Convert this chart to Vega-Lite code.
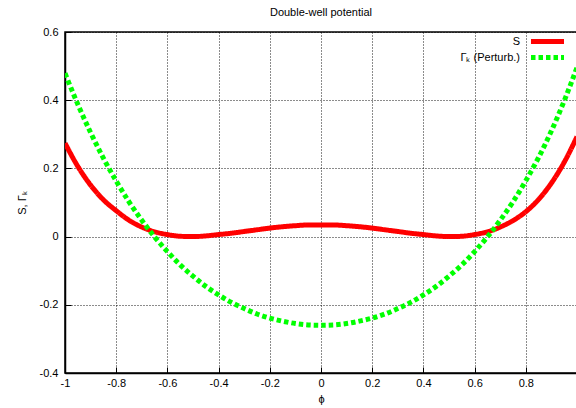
{
  "$schema": "https://vega.github.io/schema/vega-lite/v6.json",
  "width": 512,
  "height": 341,
  "autosize": "none",
  "padding": {"left": 65, "top": 32, "right": 0, "bottom": 35},
  "background": "white",
  "title": {"text": "Double-well potential", "fontSize": 11, "fontWeight": "normal", "font": "Liberation Sans", "offset": 8, "anchor": "middle", "color": "black"},
  "config": {
    "view": {"stroke": "black", "strokeWidth": 1.5},
    "axis": {"labelFont": "Liberation Sans", "labelFontSize": 11, "labelColor": "black", "titleFont": "Liberation Sans", "titleFontSize": 11, "titleFontWeight": "normal", "titleColor": "black", "grid": true, "gridDash": [1, 2], "gridColor": "black", "gridOpacity": 0.9, "domainColor": "black", "domainWidth": 1.5, "tickColor": "black", "tickSize": -6, "tickWidth": 1},
    "legend": {"labelFont": "Liberation Sans", "labelFontSize": 11, "labelColor": "black", "symbolType": "M-8.25,0H8.25", "symbolSize": 16, "symbolStrokeWidth": 5, "labelAlign": "right", "labelOffset": -33, "rowPadding": -13, "padding": 0, "titlePadding": 0}
  },
  "data": {"values": [
    {"phi": -1.0, "v": 0.274, "series": "S"},
    {"phi": -0.95, "v": 0.206, "series": "S"},
    {"phi": -0.9, "v": 0.151, "series": "S"},
    {"phi": -0.85, "v": 0.108, "series": "S"},
    {"phi": -0.8, "v": 0.076, "series": "S"},
    {"phi": -0.75, "v": 0.048, "series": "S"},
    {"phi": -0.7, "v": 0.028, "series": "S"},
    {"phi": -0.65, "v": 0.014, "series": "S"},
    {"phi": -0.6, "v": 0.006, "series": "S"},
    {"phi": -0.55, "v": 0.001, "series": "S"},
    {"phi": -0.5, "v": 0.0, "series": "S"},
    {"phi": -0.45, "v": 0.002, "series": "S"},
    {"phi": -0.4, "v": 0.006, "series": "S"},
    {"phi": -0.35, "v": 0.010, "series": "S"},
    {"phi": -0.3, "v": 0.015, "series": "S"},
    {"phi": -0.25, "v": 0.020, "series": "S"},
    {"phi": -0.2, "v": 0.025, "series": "S"},
    {"phi": -0.15, "v": 0.029, "series": "S"},
    {"phi": -0.1, "v": 0.032, "series": "S"},
    {"phi": -0.05, "v": 0.034, "series": "S"},
    {"phi": 0.0, "v": 0.034, "series": "S"},
    {"phi": 0.05, "v": 0.034, "series": "S"},
    {"phi": 0.1, "v": 0.032, "series": "S"},
    {"phi": 0.15, "v": 0.029, "series": "S"},
    {"phi": 0.2, "v": 0.025, "series": "S"},
    {"phi": 0.25, "v": 0.020, "series": "S"},
    {"phi": 0.3, "v": 0.015, "series": "S"},
    {"phi": 0.35, "v": 0.010, "series": "S"},
    {"phi": 0.4, "v": 0.006, "series": "S"},
    {"phi": 0.45, "v": 0.002, "series": "S"},
    {"phi": 0.5, "v": 0.0, "series": "S"},
    {"phi": 0.55, "v": 0.001, "series": "S"},
    {"phi": 0.6, "v": 0.006, "series": "S"},
    {"phi": 0.65, "v": 0.014, "series": "S"},
    {"phi": 0.7, "v": 0.028, "series": "S"},
    {"phi": 0.75, "v": 0.047, "series": "S"},
    {"phi": 0.8, "v": 0.073, "series": "S"},
    {"phi": 0.85, "v": 0.109, "series": "S"},
    {"phi": 0.9, "v": 0.157, "series": "S"},
    {"phi": 0.95, "v": 0.218, "series": "S"},
    {"phi": 1.0, "v": 0.293, "series": "S"},
    {"phi": -1.0, "v": 0.479, "series": "Γₖ (Perturb.)"},
    {"phi": -0.95, "v": 0.388, "series": "Γₖ (Perturb.)"},
    {"phi": -0.9, "v": 0.305, "series": "Γₖ (Perturb.)"},
    {"phi": -0.85, "v": 0.230, "series": "Γₖ (Perturb.)"},
    {"phi": -0.8, "v": 0.163, "series": "Γₖ (Perturb.)"},
    {"phi": -0.75, "v": 0.102, "series": "Γₖ (Perturb.)"},
    {"phi": -0.7, "v": 0.048, "series": "Γₖ (Perturb.)"},
    {"phi": -0.65, "v": -0.001, "series": "Γₖ (Perturb.)"},
    {"phi": -0.6, "v": -0.044, "series": "Γₖ (Perturb.)"},
    {"phi": -0.55, "v": -0.083, "series": "Γₖ (Perturb.)"},
    {"phi": -0.5, "v": -0.116, "series": "Γₖ (Perturb.)"},
    {"phi": -0.45, "v": -0.146, "series": "Γₖ (Perturb.)"},
    {"phi": -0.4, "v": -0.171, "series": "Γₖ (Perturb.)"},
    {"phi": -0.35, "v": -0.193, "series": "Γₖ (Perturb.)"},
    {"phi": -0.3, "v": -0.211, "series": "Γₖ (Perturb.)"},
    {"phi": -0.25, "v": -0.227, "series": "Γₖ (Perturb.)"},
    {"phi": -0.2, "v": -0.239, "series": "Γₖ (Perturb.)"},
    {"phi": -0.15, "v": -0.248, "series": "Γₖ (Perturb.)"},
    {"phi": -0.1, "v": -0.255, "series": "Γₖ (Perturb.)"},
    {"phi": -0.05, "v": -0.259, "series": "Γₖ (Perturb.)"},
    {"phi": 0.0, "v": -0.260, "series": "Γₖ (Perturb.)"},
    {"phi": 0.05, "v": -0.259, "series": "Γₖ (Perturb.)"},
    {"phi": 0.1, "v": -0.255, "series": "Γₖ (Perturb.)"},
    {"phi": 0.15, "v": -0.248, "series": "Γₖ (Perturb.)"},
    {"phi": 0.2, "v": -0.239, "series": "Γₖ (Perturb.)"},
    {"phi": 0.25, "v": -0.227, "series": "Γₖ (Perturb.)"},
    {"phi": 0.3, "v": -0.211, "series": "Γₖ (Perturb.)"},
    {"phi": 0.35, "v": -0.193, "series": "Γₖ (Perturb.)"},
    {"phi": 0.4, "v": -0.171, "series": "Γₖ (Perturb.)"},
    {"phi": 0.45, "v": -0.146, "series": "Γₖ (Perturb.)"},
    {"phi": 0.5, "v": -0.116, "series": "Γₖ (Perturb.)"},
    {"phi": 0.55, "v": -0.083, "series": "Γₖ (Perturb.)"},
    {"phi": 0.6, "v": -0.044, "series": "Γₖ (Perturb.)"},
    {"phi": 0.65, "v": -0.001, "series": "Γₖ (Perturb.)"},
    {"phi": 0.7, "v": 0.048, "series": "Γₖ (Perturb.)"},
    {"phi": 0.75, "v": 0.102, "series": "Γₖ (Perturb.)"},
    {"phi": 0.8, "v": 0.164, "series": "Γₖ (Perturb.)"},
    {"phi": 0.85, "v": 0.232, "series": "Γₖ (Perturb.)"},
    {"phi": 0.9, "v": 0.310, "series": "Γₖ (Perturb.)"},
    {"phi": 0.95, "v": 0.398, "series": "Γₖ (Perturb.)"},
    {"phi": 1.0, "v": 0.496, "series": "Γₖ (Perturb.)"}
  ]},
  "mark": {"type": "line", "strokeWidth": 5, "interpolate": "monotone", "clip": true},
  "encoding": {
    "x": {
      "field": "phi", "type": "quantitative",
      "scale": {"domain": [-1, 1], "nice": false, "zero": false},
      "axis": {"title": "ϕ", "values": [-1, -0.8, -0.6, -0.4, -0.2, 0, 0.2, 0.4, 0.6, 0.8], "labelExpr": "(datum.value < -0.0001 ? '-' : '') + format(abs(datum.value), '~g')", "labelPadding": 10, "titlePadding": 5, "labelFlush": false}
    },
    "y": {
      "field": "v", "type": "quantitative",
      "scale": {"domain": [-0.4, 0.6], "nice": false, "zero": false},
      "axis": {"title": "S, Γₖ", "values": [-0.4, -0.2, 0, 0.2, 0.4, 0.6], "labelExpr": "(datum.value < -0.0001 ? '-' : '') + format(abs(datum.value), '~g')", "labelPadding": 13, "titlePadding": 12, "labelFlush": false}
    },
    "color": {
      "field": "series", "type": "nominal",
      "scale": {"domain": ["S", "Γₖ (Perturb.)"], "range": ["#ff0000", "#00ff00"]},
      "legend": {"title": null, "orient": "none", "legendX": 477, "legendY": 4}
    },
    "strokeDash": {
      "field": "series", "type": "nominal",
      "scale": {"domain": ["S", "Γₖ (Perturb.)"], "range": [[1, 0], [4.5, 3]]},
      "legend": {"title": null, "orient": "none", "legendX": 477, "legendY": 4}
    }
  }
}
